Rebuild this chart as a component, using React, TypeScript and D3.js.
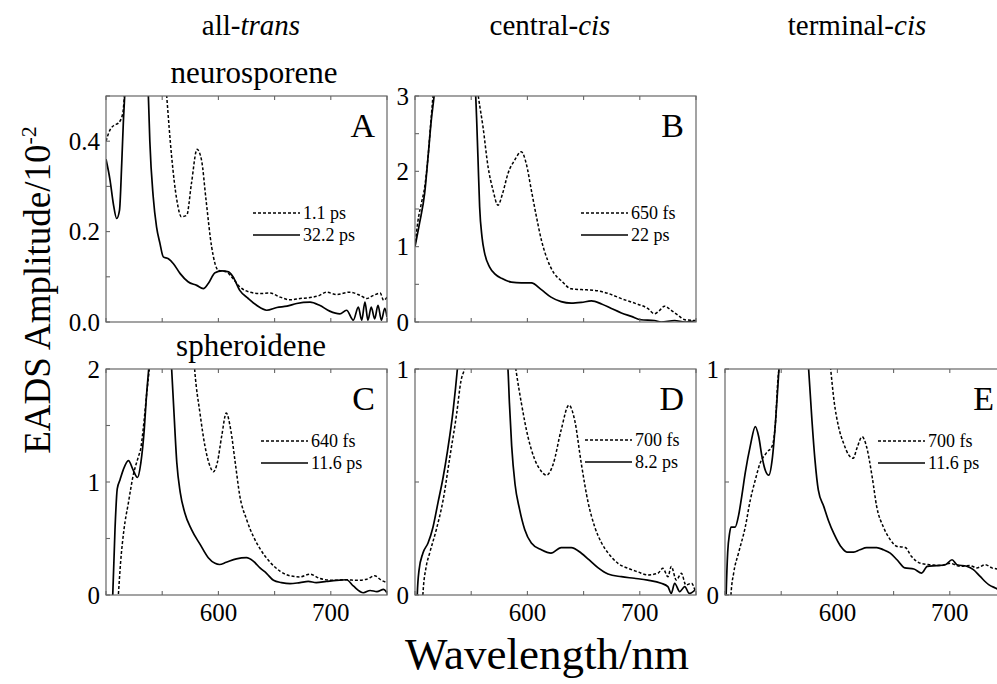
import React from "react";
import * as d3 from "d3";

// ---------- data (wavelength nm, EADS amplitude / 10^-2) ----------
const columnTitles = [
  { pre: "all-", it: "trans" },
  { pre: "central-", it: "cis" },
  { pre: "terminal-", it: "cis" },
];
const rowTitles = ["neurosporene", "spheroidene"];
const panelLetters = ["A", "B", "C", "D", "E"];
const xTickLabels = [600, 700];
const xDomain = [500, 750];
const yMaxA = 0.5, yMaxB = 3, yMaxC = 2, yMaxD = 1, yMaxE = 1;
const yLabelsA = [0, 0.2, 0.4];
const yLabelsB = [0, 1, 2, 3];
const yLabelsC = [0, 1, 2];
const yLabelsD = [0, 1];
const yLabelsE = [0, 1];
const legendA = ["1.1 ps", "32.2 ps"];
const legendB = ["650 fs", "22 ps"];
const legendC = ["640 fs", "11.6 ps"];
const legendD = ["700 fs", "8.2 ps"];
const legendE = ["700 fs", "11.6 ps"];

const aDashed: [number, number][] = [[500,0.40],[503.6,0.425],[507,0.435],[511,0.44],[514.8,0.46],[517,0.52],[522,0.7],[530,0.9],[540,0.9],[548,0.7],[554,0.5],[558.4,0.366],[563,0.27],[567,0.233],[571.8,0.236],[576,0.306],[581,0.382],[585,0.358],[589,0.27],[594,0.166],[600,0.114],[607,0.111],[613,0.096],[619,0.078],[628,0.066],[637,0.063],[646,0.064],[655,0.055],[664,0.049],[672.6,0.052],[681.5,0.054],[690,0.059],[696,0.066],[705,0.061],[717,0.066],[726,0.059],[732,0.052],[738,0.059],[744,0.064],[747,0.048],[750,0.055]];
const aSolid: [number, number][] = [[500,0.36],[503.6,0.314],[506.5,0.262],[509.5,0.229],[512,0.247],[514,0.351],[515.4,0.44],[516.6,0.5],[520,0.8],[528,1.1],[535,0.8],[537.7,0.5],[539,0.40],[542,0.277],[545,0.21],[548,0.174],[551,0.144],[555.5,0.140],[560,0.129],[566,0.107],[573,0.089],[580.7,0.081],[586.6,0.074],[591,0.085],[597,0.109],[603,0.113],[609,0.111],[613,0.100],[619,0.070],[626.6,0.052],[634,0.037],[643,0.026],[652,0.032],[661,0.035],[669.6,0.041],[681.5,0.044],[690,0.037],[699,0.024],[708,0.018],[714,0.026],[720,0.004],[724.5,0.033],[727.5,0.004],[730.4,0.044],[733,0.004],[736,0.033],[739,0.007],[742,0.037],[745,0.004],[748,0.030],[750,0.011]];
const bDashed: [number, number][] = [[500,1.0],[502.7,1.35],[505.6,1.57],[508.6,1.79],[511.6,2.19],[514,2.64],[516,3.0],[525,4.5],[540,5],[550,3.8],[556.6,2.97],[560.5,2.59],[565,2.06],[569.4,1.75],[573.8,1.55],[578,1.71],[582.7,1.97],[588.7,2.15],[594.6,2.26],[599,2.10],[603.5,1.75],[608,1.40],[612.4,1.09],[618,0.82],[624,0.64],[630,0.55],[639,0.44],[648,0.43],[660,0.42],[671.7,0.38],[683.6,0.31],[695.4,0.25],[707,0.18],[713,0.11],[717.7,0.155],[722,0.21],[728,0.155],[734,0.09],[740,0.03],[750,0.02]];
const bSolid: [number, number][] = [[500,1.0],[504,1.31],[508.6,1.71],[511.6,2.19],[514.5,2.68],[517,3.0],[525,4.5],[540,5],[550,3.6],[554,3.0],[556,2.19],[557.5,1.53],[559.6,1.13],[562,0.91],[566.4,0.73],[571,0.64],[577,0.58],[585.7,0.53],[594.6,0.52],[603.5,0.52],[612.4,0.43],[621,0.33],[630,0.27],[639,0.25],[648,0.26],[657,0.28],[666,0.24],[674.7,0.18],[683.6,0.12],[692.5,0.075],[701,0.03],[713,0.02],[719,0.0],[731,0.02],[740,0.0],[750,0.02]];
const cSolid: [number, number][] = [[504,-0.3],[506,0],[508,0.58],[510,0.94],[512.5,1.02],[515.4,1.11],[520,1.19],[524,1.11],[528,1.04],[531,1.17],[534,1.46],[536,1.76],[538,2.0],[545,3],[552,3],[558.4,2.0],[560.5,1.61],[563,1.17],[566,0.91],[570,0.73],[576,0.58],[583.6,0.45],[591,0.33],[597,0.28],[601,0.27],[607,0.29],[616,0.32],[625,0.33],[631,0.30],[637,0.24],[643,0.19],[649,0.13],[656,0.11],[663.7,0.10],[672.6,0.11],[680,0.12],[687,0.11],[696,0.12],[705,0.13],[714,0.135],[720,0.08],[729,0.02],[735,0.04],[741,0.03],[747,0.05],[750,0.02]];
const cDashed: [number, number][] = [[509,-0.3],[511,0],[513,0.29],[516,0.58],[520,0.82],[524,1.05],[529,1.23],[531,1.30],[533,1.46],[536,1.76],[538.5,2.0],[550,3.5],[570,3.5],[575,2.6],[579,1.98],[583.6,1.61],[588,1.32],[592.5,1.14],[595.5,1.09],[599,1.17],[603,1.41],[607,1.61],[611,1.46],[615,1.17],[619,0.88],[625,0.67],[631,0.52],[637,0.41],[646,0.29],[655,0.21],[663.7,0.17],[672.6,0.16],[681.5,0.185],[690,0.147],[702,0.13],[714,0.135],[723,0.13],[732,0.14],[739,0.17],[745,0.13],[750,0.11]];
const dSolid: [number, number][] = [[501,-0.2],[502,0],[503.6,0.11],[507,0.185],[511.6,0.23],[516,0.30],[520.5,0.41],[525,0.52],[529,0.64],[534,0.82],[537.7,1.0],[545,1.5],[570,1.6],[580,1.1],[582.7,1.0],[584,0.85],[586,0.66],[589,0.49],[593,0.38],[597.6,0.29],[603.5,0.23],[612.4,0.20],[621,0.185],[630,0.21],[639,0.21],[648,0.185],[655,0.155],[663,0.12],[671.7,0.093],[683.6,0.081],[695,0.074],[707,0.066],[719,0.052],[725,0.037],[728,0.007],[731,0.052],[735.5,0.015],[740,0.037],[744,0.007],[749,0.022]];
const dDashed: [number, number][] = [[506,-0.2],[507,0],[510,0.126],[513,0.185],[519,0.29],[525,0.42],[531,0.61],[537,0.80],[541,0.95],[544,1.0],[560,1.6],[580,1.4],[590,0.99],[594.6,0.85],[600.5,0.70],[606.5,0.60],[612,0.55],[617,0.53],[623,0.58],[630,0.73],[637,0.84],[642,0.775],[648,0.58],[654,0.41],[660,0.30],[666,0.23],[672,0.185],[680.6,0.14],[689.5,0.118],[698,0.103],[707,0.089],[716,0.096],[720.6,0.118],[725,0.081],[728,0.126],[732.5,0.066],[737,0.096],[741,0.044],[746,0.052],[749,0.022]];
const eSolid: [number, number][] = [[500,-0.2],[501,0],[502.4,0.19],[504,0.27],[505.3,0.30],[509,0.30],[512,0.35],[515,0.44],[518,0.54],[522.5,0.66],[527,0.745],[530,0.70],[533,0.61],[536,0.55],[539,0.53],[542,0.60],[545,0.77],[548,1.0],[555,1.6],[568,1.6],[574.4,1.0],[577.4,0.77],[580,0.60],[583,0.465],[588,0.39],[592,0.33],[597,0.27],[603,0.215],[608.5,0.19],[614.5,0.19],[620,0.20],[626,0.21],[635,0.21],[641,0.20],[647,0.185],[653,0.156],[660,0.12],[668,0.115],[675,0.097],[680,0.127],[688.6,0.13],[696,0.134],[702,0.156],[706.4,0.134],[715,0.127],[721,0.112],[727,0.082],[734.6,0.046],[740.5,0.031],[750,0.01]];
const eDashed: [number, number][] = [[504,-0.2],[505.3,0],[507.7,0.097],[512,0.185],[518,0.30],[522.5,0.42],[527,0.51],[531,0.58],[537,0.63],[542,0.66],[545,0.77],[547,0.95],[548,1.0],[560,1.7],[585,1.5],[594,1.0],[597,0.86],[601,0.745],[605.6,0.67],[610,0.62],[614,0.605],[617.4,0.65],[622,0.70],[626,0.655],[631,0.52],[635,0.39],[641,0.30],[647,0.245],[653,0.215],[660.4,0.21],[666,0.17],[674,0.14],[683,0.134],[691.6,0.13],[700.5,0.14],[709,0.127],[718,0.13],[724,0.12],[731.6,0.134],[737.5,0.12],[742,0.115],[750,0.11]];

// ---------- layout ----------
const W = 997, H = 684;
const FONT = "'Liberation Serif', 'Times New Roman', serif";
const PW = 281, PH = 226;

type PanelDef = {
  id: string; x0: number; y0: number; ymax: number; yLabels: number[]; yMinor: number; fmt: string;
  dashed: [number, number][]; solid: [number, number][]; legend: string[];
  legX: number; legY: number; xLabels: boolean;
};

const panels: PanelDef[] = [
  { id: "A", x0: 106, y0: 96, ymax: yMaxA, yLabels: yLabelsA, yMinor: 0.1, fmt: ".1f", dashed: aDashed, solid: aSolid, legend: legendA, legX: 147, legY: 117, xLabels: false },
  { id: "B", x0: 415, y0: 96, ymax: yMaxB, yLabels: yLabelsB, yMinor: 0.5, fmt: "d", dashed: bDashed, solid: bSolid, legend: legendB, legX: 166, legY: 117, xLabels: false },
  { id: "C", x0: 106, y0: 369, ymax: yMaxC, yLabels: yLabelsC, yMinor: 0.5, fmt: "d", dashed: cDashed, solid: cSolid, legend: legendC, legX: 155, legY: 72, xLabels: true },
  { id: "D", x0: 415, y0: 369, ymax: yMaxD, yLabels: yLabelsD, yMinor: 0.5, fmt: "d", dashed: dDashed, solid: dSolid, legend: legendD, legX: 170, legY: 71, xLabels: true },
  { id: "E", x0: 725, y0: 369, ymax: yMaxE, yLabels: yLabelsE, yMinor: 0.5, fmt: "d", dashed: eDashed, solid: eSolid, legend: legendE, legX: 153, legY: 72, xLabels: true },
];

function Panel({ p, letter }: { p: PanelDef; letter: string }) {
  const x = d3.scaleLinear().domain(xDomain).range([p.x0, p.x0 + PW]);
  const y = d3.scaleLinear().domain([0, p.ymax]).range([p.y0 + PH, p.y0]);
  const line = d3.line<[number, number]>().x((d) => x(d[0])).y((d) => y(d[1])).curve(d3.curveMonotoneX);
  const xTicks = d3.range(xDomain[0], xDomain[1] + 1, 50);
  const yTicks = d3.range(0, p.ymax + 1e-9, p.yMinor);
  const fmt = d3.format(p.fmt);
  const tl = 4;
  const frame = "#666";
  const lx = p.x0 + p.legX;
  const ly = p.y0 + p.legY;
  return (
    <g>
      <defs>
        <clipPath id={`clip-${p.id}`}>
          <rect x={p.x0} y={p.y0} width={PW} height={PH} />
        </clipPath>
      </defs>
      <g clipPath={`url(#clip-${p.id})`} fill="none" stroke="#000">
        <path d={line(p.dashed) || ""} strokeWidth={1.5} strokeDasharray="3,2" />
        <path d={line(p.solid) || ""} strokeWidth={1.7} />
      </g>
      <rect x={p.x0} y={p.y0} width={PW} height={PH} fill="none" stroke={frame} strokeWidth={1.2} />
      {xTicks.map((t) => (
        <g key={`xt${t}`} stroke={frame} strokeWidth={1.1}>
          <line x1={x(t)} x2={x(t)} y1={p.y0 + PH} y2={p.y0 + PH - tl} />
          <line x1={x(t)} x2={x(t)} y1={p.y0} y2={p.y0 + tl} />
        </g>
      ))}
      {yTicks.map((t, i) => (
        <line key={`yt${i}`} x1={p.x0} x2={p.x0 + tl} y1={y(t)} y2={y(t)} stroke={frame} strokeWidth={1.1} />
      ))}
      {p.yLabels.map((t) => (
        <text key={`yl${t}`} x={p.x0 - 6} y={y(t)} dy="0.35em" textAnchor="end" fontSize={25} fontFamily={FONT}>
          {fmt(t)}
        </text>
      ))}
      {p.xLabels &&
        xTickLabels.map((t) => (
          <text key={`xl${t}`} x={x(t)} y={p.y0 + PH + 26} textAnchor="middle" fontSize={25} fontFamily={FONT}>
            {t}
          </text>
        ))}
      <text x={p.x0 + PW - 12} y={p.y0 + 41} textAnchor="end" fontSize={34} fontFamily={FONT}>
        {letter}
      </text>
      <g fontFamily={FONT} fontSize={18}>
        <line x1={lx} x2={lx + 47} y1={ly} y2={ly} stroke="#000" strokeWidth={1.5} strokeDasharray="3,2" />
        <text x={lx + 50} y={ly + 6}>{p.legend[0]}</text>
        <line x1={lx} x2={lx + 47} y1={ly + 22} y2={ly + 22} stroke="#000" strokeWidth={1.7} />
        <text x={lx + 50} y={ly + 28}>{p.legend[1]}</text>
      </g>
    </g>
  );
}

export default function App() {
  const colCenters = [251, 550, 857];
  return (
    <svg width={W} height={H} style={{ position: "absolute", left: 0, top: 0, background: "#fff" }} fontFamily={FONT}>
      <rect width={W} height={H} fill="#fff" />
      {columnTitles.map((c, i) => (
        <text key={i} x={colCenters[i]} y={35} textAnchor="middle" fontSize={29}>
          {c.pre}
          <tspan fontStyle="italic">{c.it}</tspan>
        </text>
      ))}
      <text x={254} y={83} textAnchor="middle" fontSize={31}>{rowTitles[0]}</text>
      <text x={251} y={356} textAnchor="middle" fontSize={31}>{rowTitles[1]}</text>
      {panels.map((p, i) => (
        <Panel key={p.id} p={p} letter={panelLetters[i]} />
      ))}
      <text transform="translate(50,290) rotate(-90)" textAnchor="middle" fontSize={37}>
        EADS Amplitude/10
        <tspan dy={-14} fontSize={22}>-2</tspan>
      </text>
      <text x={547} y={669} textAnchor="middle" fontSize={45}>Wavelength/nm</text>
    </svg>
  );
}
